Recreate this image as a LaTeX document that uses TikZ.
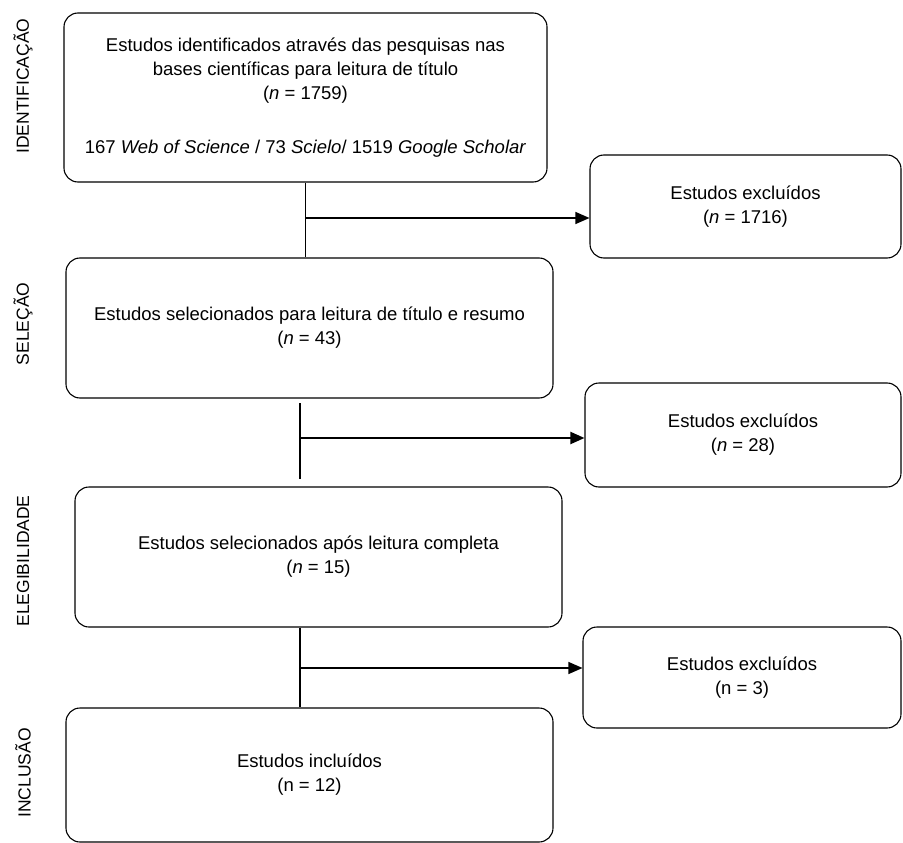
\documentclass[tikz,border=0pt]{standalone}
\usepackage{fontspec}
\setmainfont{Liberation Sans}
\usetikzlibrary{arrows.meta}

\begin{document}
\begin{tikzpicture}[x=1pt,y=-1pt,
	caixa/.style={draw, rounded corners=14pt, line width=1.1pt, align=center, inner sep=0pt, font=\fontsize{18.5}{24}\selectfont},
	fase/.style={rotate=90, font=\fontsize{17.5}{20}\selectfont},
	linha/.style={line width=1.3pt},
	seta/.style={line width=1.3pt, -{Triangle[length=14pt,width=12pt]}}]
	\useasboundingbox (0,0) rectangle (903,843);

	% fases
	\node[fase] (fIdent) at (23,86) {IDENTIFICAÇÃO};
	\node[fase] (fSel) at (23,324) {SELEÇÃO};
	\node[fase] (fEleg) at (23,561) {ELEGIBILIDADE};
	\node[fase] (fIncl) at (23,773) {INCLUSÃO};

	% caixas principais
	\node[caixa, minimum width=483pt, minimum height=169pt] (ident) at (305.5,97.5) {Estudos identificados através das pesquisas nas\\ bases científicas para leitura de título\\ (\textit{n} = 1759)\\[30pt] 167 \textit{Web of Science} / 73 \textit{Scielo}/ 1519 \textit{Google Scholar}};
	\node[caixa, minimum width=487pt, minimum height=140pt] (sel) at (309.5,328) {Estudos selecionados para leitura de título e resumo\\ (\textit{n} = 43)};
	\node[caixa, minimum width=487pt, minimum height=140pt] (eleg) at (318.5,557) {Estudos selecionados após leitura completa\\ (\textit{n} = 15)};
	\node[caixa, minimum width=487pt, minimum height=134pt] (incl) at (309.5,775) {Estudos incluídos\\ (n = 12)};

	% excluídos
	\node[caixa, minimum width=311pt, minimum height=103pt] (excl1) at (745.5,206.5) {Estudos excluídos\\ (\textit{n} = 1716)};
	\node[caixa, minimum width=316pt, minimum height=104pt] (excl2) at (743,435) {Estudos excluídos\\ (\textit{n} = 28)};
	\node[caixa, minimum width=318pt, minimum height=101pt] (excl3) at (742,677.5) {Estudos excluídos\\ (n = 3)};

	% ligações
	\coordinate (r1) at (305.5,218);
	\coordinate (r2) at (300,438);
	\coordinate (r3) at (300,668);
	\coordinate (t2) at (300,403);
	\coordinate (b2) at (300,479);

	\draw[linha] (ident.south) -- (ident.south |- sel.north);
	\draw[seta] (r1) -- (r1 -| excl1.west);

	\draw[line width=2.3pt] (t2) -- (b2);
	\draw[seta, line width=2pt] (r2) -- (r2 -| excl2.west);

	\draw[linha] (r3 |- eleg.south) -- (r3 |- incl.north);
	\draw[seta] (r3) -- (r3 -| excl3.west);
\end{tikzpicture}
\end{document}
